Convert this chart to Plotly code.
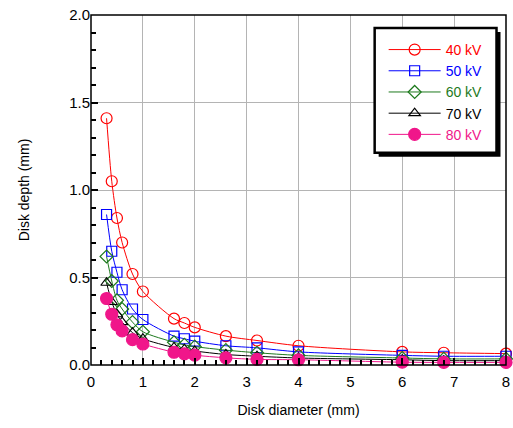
import plotly.graph_objects as go

diameter = [0.3, 0.4, 0.5, 0.6, 0.8, 1.0, 1.6, 1.8, 2.0, 2.6, 3.2, 4.0, 6.0, 6.8, 8.0]
depth_40kv = [1.41, 1.05, 0.84, 0.70, 0.52, 0.42, 0.265, 0.24, 0.215, 0.165, 0.14, 0.11, 0.075, 0.07, 0.065]
depth_50kv = [0.86, 0.65, 0.53, 0.43, 0.32, 0.26, 0.165, 0.15, 0.136, 0.11, 0.098, 0.075, 0.055, 0.05, 0.05]
depth_60kv = [0.62, 0.48, 0.37, 0.32, 0.245, 0.19, 0.13, 0.115, 0.105, 0.085, 0.07, 0.055, 0.04, 0.035, 0.035]
depth_70kv = [0.47, 0.36, 0.29, 0.245, 0.185, 0.15, 0.10, 0.09, 0.08, 0.06, 0.05, 0.04, 0.03, 0.025, 0.025]
depth_80kv = [0.38, 0.29, 0.23, 0.195, 0.145, 0.12, 0.073, 0.064, 0.056, 0.041, 0.032, 0.03, 0.016, 0.015, 0.015]

series = [
    ("40 kV", depth_40kv, "#ff0000", "circle-open", 11),
    ("50 kV", depth_50kv, "#0000ff", "square-open", 10),
    ("60 kV", depth_60kv, "#1e7a1e", "diamond-open", 10),
    ("70 kV", depth_70kv, "#000000", "triangle-up-open", 10),
    ("80 kV", depth_80kv, "#f0168a", "circle", 12),
]

fig = go.Figure()
for name, ys, color, sym, size in series:
    fig.add_trace(go.Scatter(
        x=diameter, y=ys, mode="lines+markers",
        name=f'<span style="color:{color}">{name}</span>',
        line=dict(color=color, width=1, shape="spline", smoothing=0.8),
        marker=dict(symbol=sym, size=size, color=color, line=dict(color=color, width=1.2)),
        cliponaxis=False,
    ))

W, H = 513, 428
L, R, T, B = 91, 506.5, 15, 365.5

def px2paper(px, py):
    return (px - L) / (R - L), (B - py) / (B - T)

# plot frame
fig.add_shape(type="rect", xref="paper", yref="paper", x0=0, y0=0, x1=1, y1=1,
              line=dict(color="black", width=1.5), fillcolor="rgba(0,0,0,0)", layer="above")

# legend box with shadow
x0, y0 = px2paper(379, 157)
x1, y1 = px2paper(501, 32)
fig.add_shape(type="rect", xref="paper", yref="paper", x0=x0, y0=y0, x1=x1, y1=y1,
              fillcolor="black", line=dict(width=0), layer="above")
x0, y0 = px2paper(375, 153)
x1, y1 = px2paper(497, 28)
fig.add_shape(type="rect", xref="paper", yref="paper", x0=x0, y0=y0, x1=x1, y1=y1,
              fillcolor="white", line=dict(color="black", width=2.5), layer="above")

lx, ly = px2paper(384, 34)
fig.update_layout(
    width=W, height=H,
    margin=dict(l=L, r=W - R, t=T, b=H - B, autoexpand=False),
    paper_bgcolor="white", plot_bgcolor="white",
    font=dict(family="Liberation Sans, Arial, sans-serif", size=15, color="black"),
    showlegend=True,
    legend=dict(x=lx, y=ly, xanchor="left", yanchor="top", bgcolor="rgba(0,0,0,0)",
                borderwidth=0, font=dict(size=14), tracegroupgap=0, itemwidth=52),
    xaxis=dict(range=[0, 8], dtick=1, gridcolor="#b4b4b4", showline=False,
               ticks="inside", ticklen=7, tickcolor="black", tickwidth=1.5,
               minor=dict(dtick=0.2, ticks="inside", ticklen=5, tickcolor="black", tickwidth=1.5),
               zeroline=False, ticklabelstandoff=6,
               title=dict(text="Disk diameter (mm)", standoff=16, font=dict(size=14))),
    yaxis=dict(range=[0, 2], dtick=0.5, tickformat=".1f", gridcolor="#b4b4b4", showline=False,
               ticks="inside", ticklen=7, tickcolor="black", tickwidth=1.5,
               minor=dict(dtick=0.1, ticks="inside", ticklen=5, tickcolor="black", tickwidth=1.5),
               zeroline=False,
               title=dict(text="Disk depth (mm)", standoff=36, font=dict(size=14))),
)

fig.write_html("out.html", config={"displayModeBar": False},
               post_script="document.body.style.margin='0';document.body.style.padding='0';")
